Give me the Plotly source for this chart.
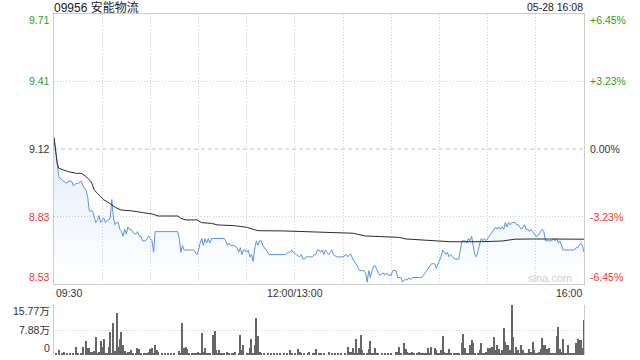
import plotly.graph_objects as go

# ---------------- data ----------------
title_text = "09956 安能物流"
stamp_text = "05-28 16:08"
prev_close = 9.12
pct_ticks = [6.45, 3.23, 0.0, -3.23, -6.45]
price_tick_labels = ["9.71", "9.41", "9.12", "8.83", "8.53"]
pct_tick_labels = ["+6.45%", "+3.23%", "0.00%", "-3.23%", "-6.45%"]
vol_ticks = [157700, 78850, 0]
vol_tick_labels = ["15.77万", "7.88万", "0"]
time_labels = ["09:30", "12:00/13:00", "16:00"]

price_times = [
    "09:30", "09:32", "09:33", "09:34", "09:36", "09:38", "09:39", "09:41", "09:42", "09:44",
    "09:45", "09:47", "09:48", "09:50", "09:51", "09:52", "09:54", "09:55", "09:56", "09:57",
    "09:58", "09:59", "10:01", "10:02", "10:03", "10:04", "10:05", "10:06", "10:07", "10:08",
    "10:09", "10:10", "10:11", "10:12", "10:13", "10:14", "10:15", "10:16", "10:17", "10:18",
    "10:20", "10:21", "10:22", "10:23", "10:24", "10:25", "10:27", "10:28", "10:29", "10:30",
    "10:31", "10:32", "10:33", "10:47", "10:48", "10:49", "10:50", "10:51", "10:52", "10:53",
    "10:57", "10:59", "11:00", "11:01", "11:02", "11:03", "11:04", "11:05", "11:06", "11:07",
    "11:08", "11:16", "11:17", "11:18", "11:19", "11:20", "11:22", "11:24", "11:25", "11:26",
    "11:27", "11:28", "11:29", "11:30", "11:31", "11:32", "11:33", "11:34", "11:35", "11:36",
    "11:37", "11:38", "11:39", "11:40", "11:42", "11:43", "11:44", "11:53", "11:54", "11:56",
    "11:57", "11:58", "11:59",
    "13:01", "13:03", "13:04", "13:05", "13:06", "13:07", "13:08", "13:09", "13:10", "13:11",
    "13:12", "13:13", "13:14", "13:15", "13:16", "13:17", "13:18", "13:19", "13:20", "13:21",
    "13:22", "13:23", "13:24", "13:26", "13:28", "13:29", "13:30", "13:32", "13:33", "13:34",
    "13:35", "13:36", "13:37", "13:38", "13:39", "13:40", "13:42", "13:43", "13:44", "13:45",
    "13:46", "13:47", "13:48", "13:49", "13:50", "13:51", "13:52", "13:53", "13:55", "13:56",
    "13:57", "13:58", "14:00", "14:01", "14:02", "14:03", "14:04", "14:05", "14:06", "14:07",
    "14:08", "14:09", "14:10", "14:11", "14:12", "14:13", "14:14", "14:15", "14:16", "14:18",
    "14:19", "14:21", "14:22", "14:23", "14:24", "14:25", "14:26", "14:27", "14:28", "14:29",
    "14:30", "14:31", "14:32", "14:33", "14:34", "14:35", "14:36", "14:37", "14:38", "14:40",
    "14:41", "14:42", "14:43", "14:44", "14:45", "14:46", "14:47", "14:48", "14:49", "14:50",
    "14:51", "14:52", "14:53", "14:54", "14:55", "14:56", "14:57", "14:58", "14:59", "15:00",
    "15:01", "15:02", "15:03", "15:04", "15:05", "15:06", "15:07", "15:08", "15:09", "15:10",
    "15:11", "15:12", "15:13", "15:14", "15:15", "15:17", "15:18", "15:19", "15:20", "15:21",
    "15:22", "15:23", "15:24", "15:25", "15:26", "15:27", "15:28", "15:29", "15:30", "15:31",
    "15:32", "15:33", "15:34", "15:35", "15:36", "15:38", "15:39", "15:40", "15:41", "15:42",
    "15:43", "15:44", "15:45", "15:46", "15:47", "15:48", "15:49", "15:50", "15:52", "15:54",
    "15:55", "15:56", "15:57", "15:58", "15:59", "16:00",
]
price_values = [
    9.17, 9.06, 9.00, 8.99, 8.98, 8.97, 8.98, 8.98, 8.96, 8.97,
    8.97, 8.98, 8.96, 8.94, 8.91, 8.85, 8.85, 8.83, 8.80, 8.81,
    8.83, 8.80, 8.82, 8.80, 8.81, 8.81, 8.82, 8.90, 8.82, 8.79,
    8.80, 8.80, 8.77, 8.76, 8.74, 8.77, 8.75, 8.78, 8.77, 8.77,
    8.75, 8.75, 8.76, 8.74, 8.74, 8.72, 8.72, 8.73, 8.74, 8.73,
    8.72, 8.67, 8.76, 8.76, 8.73, 8.67, 8.70, 8.68, 8.68, 8.68,
    8.68, 8.66, 8.68, 8.71, 8.73, 8.70, 8.73, 8.71, 8.73, 8.71,
    8.73, 8.73, 8.72, 8.70, 8.71, 8.70, 8.70, 8.69, 8.67, 8.69,
    8.66, 8.68, 8.68, 8.67, 8.68, 8.65, 8.66, 8.63, 8.69, 8.72,
    8.70, 8.72, 8.72, 8.70, 8.68, 8.67, 8.66, 8.66, 8.66, 8.67,
    8.67, 8.68, 8.67,
    8.66, 8.65, 8.66, 8.64, 8.64, 8.65, 8.65, 8.65, 8.65, 8.65,
    8.66, 8.66, 8.68, 8.68, 8.67, 8.68, 8.66, 8.68, 8.67, 8.66,
    8.67, 8.68, 8.66, 8.65, 8.65, 8.65, 8.65, 8.66, 8.65, 8.66,
    8.66, 8.64, 8.63, 8.62, 8.61, 8.59, 8.59, 8.59, 8.58, 8.54,
    8.59, 8.56, 8.59, 8.61, 8.61, 8.59, 8.58, 8.57, 8.58, 8.57,
    8.58, 8.57, 8.57, 8.59, 8.59, 8.59, 8.56, 8.56, 8.56, 8.54,
    8.55, 8.55, 8.55, 8.56, 8.55, 8.56, 8.56, 8.56, 8.56, 8.56,
    8.56, 8.58, 8.59, 8.60, 8.61, 8.62, 8.62, 8.62, 8.60, 8.62,
    8.63, 8.65, 8.68, 8.67, 8.66, 8.67, 8.65, 8.66, 8.65, 8.64,
    8.64, 8.64, 8.68, 8.72, 8.72, 8.72, 8.71, 8.73, 8.72, 8.74,
    8.70, 8.66, 8.65, 8.68, 8.71, 8.73, 8.72, 8.73, 8.72, 8.73,
    8.74, 8.75, 8.76, 8.77, 8.78, 8.77, 8.78, 8.77, 8.78, 8.77,
    8.80, 8.78, 8.80, 8.79, 8.80, 8.80, 8.79, 8.79, 8.78, 8.77,
    8.78, 8.79, 8.77, 8.77, 8.76, 8.77, 8.76, 8.75, 8.74, 8.74,
    8.75, 8.76, 8.77, 8.76, 8.72, 8.72, 8.72, 8.72, 8.73, 8.72,
    8.73, 8.71, 8.72, 8.70, 8.68, 8.68, 8.68, 8.68, 8.68, 8.68,
    8.69, 8.69, 8.70, 8.71, 8.70, 8.67,
]

avg_times = [
    "09:30", "09:32", "09:33", "09:36", "09:39", "09:44", "09:47", "09:50", "09:53", "09:54",
    "09:55", "09:57", "09:59", "10:01", "10:03", "10:06", "10:09", "10:12", "10:19", "10:25",
    "10:31", "10:35", "10:47", "10:49", "10:52", "10:59", "11:02", "11:08", "11:12", "11:22",
    "11:30", "11:34", "11:37", "11:53",
    "13:04", "13:15", "13:30", "13:36", "13:44", "13:59", "14:05", "14:09", "14:20", "14:30",
    "14:37", "14:56", "15:09", "15:17", "15:29", "16:00",
]
avg_values = [
    9.170, 9.058, 9.036, 9.029, 9.021, 9.014, 9.014, 9.000, 8.978, 8.963,
    8.942, 8.927, 8.912, 8.898, 8.891, 8.876, 8.862, 8.854, 8.850, 8.843,
    8.837, 8.828, 8.828, 8.818, 8.811, 8.811, 8.799, 8.796, 8.789, 8.786,
    8.779, 8.770, 8.764, 8.763,
    8.760, 8.757, 8.756, 8.753, 8.741, 8.738, 8.735, 8.728, 8.724, 8.719,
    8.716, 8.716, 8.719, 8.727, 8.728, 8.727,
]

vol_times = [
    "09:31", "09:33", "09:35", "09:36", "09:38", "09:40", "09:42", "09:44", "09:45", "09:47",
    "09:48", "09:50", "09:51", "09:52", "09:53", "09:54", "09:55", "09:56", "09:57", "09:58",
    "09:59", "10:00", "10:01", "10:02", "10:03", "10:04", "10:05", "10:06", "10:07", "10:08",
    "10:09", "10:10", "10:11", "10:12", "10:13", "10:14", "10:15", "10:16", "10:17", "10:18",
    "10:19", "10:21", "10:22", "10:23", "10:24", "10:26", "10:27", "10:28", "10:29", "10:30",
    "10:31", "10:32", "10:33", "10:34", "10:35", "10:37", "10:39", "10:41", "10:43", "10:45",
    "10:48", "10:49", "10:50", "10:51", "10:52", "10:53", "10:54", "10:56", "10:57", "10:58",
    "10:59", "11:00", "11:01", "11:02", "11:03", "11:04", "11:05", "11:06", "11:07", "11:09",
    "11:10", "11:11", "11:12", "11:13", "11:14", "11:15", "11:16", "11:18", "11:19", "11:21",
    "11:22", "11:23", "11:25", "11:26", "11:27", "11:28", "11:30", "11:31", "11:32", "11:33",
    "11:34", "11:35", "11:36", "11:37", "11:38", "11:39", "11:41", "11:43", "11:45", "11:47",
    "11:49", "11:51", "11:53", "11:55", "11:57", "11:58", "12:00",
    "13:02", "13:03", "13:04", "13:06", "13:08", "13:09", "13:11", "13:12", "13:13", "13:15",
    "13:16", "13:18", "13:21", "13:23", "13:25", "13:27", "13:29", "13:31", "13:33", "13:34",
    "13:35", "13:36", "13:37", "13:38", "13:39", "13:40", "13:41", "13:42", "13:43", "13:45",
    "13:46", "13:47", "13:48", "13:49", "13:50", "13:51", "13:52", "13:54", "13:56", "13:58",
    "14:00", "14:03", "14:04", "14:05", "14:06", "14:08", "14:09", "14:10", "14:11", "14:12",
    "14:13", "14:14", "14:16", "14:17", "14:18", "14:19", "14:20", "14:21", "14:22", "14:23",
    "14:24", "14:25", "14:27", "14:28", "14:29", "14:30", "14:31", "14:32", "14:33", "14:34",
    "14:35", "14:36", "14:37", "14:39", "14:40", "14:41", "14:42", "14:44", "14:45", "14:46",
    "14:47", "14:48", "14:49", "14:50", "14:51", "14:52", "14:54", "14:55", "14:56", "14:57",
    "14:58", "14:59", "15:00", "15:01", "15:02", "15:03", "15:04", "15:05", "15:06", "15:07",
    "15:08", "15:09", "15:10", "15:11", "15:12", "15:13", "15:14", "15:15", "15:16", "15:17",
    "15:18", "15:19", "15:20", "15:21", "15:22", "15:23", "15:24", "15:25", "15:26", "15:27",
    "15:28", "15:29", "15:30", "15:31", "15:32", "15:33", "15:34", "15:35", "15:36", "15:37",
    "15:38", "15:39", "15:40", "15:41", "15:42", "15:43", "15:44", "15:45", "15:46", "15:47",
    "15:48", "15:49", "15:50", "15:51", "15:52", "15:53", "15:54", "15:55", "15:56", "15:57",
    "15:58", "15:59", "16:00",
]
vol_values = [
    5300, 15800, 5300, 8400, 3200, 5300, 7400, 24000, 5300, 5300,
    24000, 44000, 21000, 21000, 8400, 10500, 13700, 56000, 5300, 10500,
    44000, 26000, 49000, 7400, 5300, 26000, 74000, 5300, 100000, 13700,
    133000, 26000, 52000, 74000, 31500, 13700, 7400, 10500, 10500, 15800,
    7400, 5300, 21000, 17900, 5300, 7400, 3200, 5300, 10500, 17900,
    21000, 5300, 31500, 15800, 8400, 3200, 3200, 3200, 3200, 3200,
    12600, 5300, 102000, 21000, 26000, 17900, 5300, 5300, 3200, 7400,
    5300, 10500, 5300, 70000, 10500, 23000, 5300, 7400, 3200, 63000,
    76000, 15800, 3200, 15800, 7400, 3200, 7400, 10500, 5300, 5300,
    7400, 10500, 5300, 63000, 15800, 31500, 5300, 7400, 21000, 49000,
    7400, 31500, 116000, 60000, 8400, 3200, 3200, 5300, 3200, 5300,
    3200, 5300, 3200, 5300, 15800, 5300, 5300,
    17900, 10500, 5300, 7400, 5300, 10500, 5300, 5300, 17900, 5300,
    3200, 3200, 8400, 3200, 3200, 3200, 5300, 3200, 24000, 10500,
    10500, 21000, 5300, 49000, 5300, 21000, 63000, 15800, 5300, 7400,
    17900, 44000, 7400, 5300, 21000, 7400, 3200, 5300, 3200, 3200,
    3200, 10500, 10500, 26000, 7400, 39000, 17900, 10500, 7400, 7400,
    10500, 3200, 7400, 10500, 5300, 5300, 3200, 7400, 3200, 21000,
    5300, 24000, 21000, 15800, 5300, 5300, 15800, 60000, 10500, 5300,
    5300, 17900, 7400, 3200, 3200, 3200, 3200, 39000, 66000, 21000,
    5300, 3200, 31500, 47000, 37000, 3200, 5300, 15800, 39000, 5300,
    7400, 10500, 21000, 21000, 21000, 26000, 56000, 15800, 31500, 17900,
    3200, 15800, 84000, 42000, 31500, 31500, 15800, 158000, 58000, 5300,
    26000, 15800, 5300, 31500, 15800, 5300, 3200, 5300, 17900, 10500,
    42000, 15800, 3200, 5300, 10500, 17900, 55000, 31500, 31500, 17900,
    21000, 5300, 3200, 7400, 5300, 60000, 89000, 17900, 10500, 50000,
    7400, 5300, 31500, 3200, 7400, 5300, 7400, 37000, 49000, 46000,
    46000, 21000, 110000,
]

# ---------------- helpers ----------------
MORNING_LEN = 150   # 09:30-12:00
SESSION_LEN = 330   # + 13:00-16:00


def session_minute(t):
    h, m = map(int, t.split(":"))
    mins = h * 60 + m
    if mins <= 12 * 60:
        return mins - (9 * 60 + 30)
    return MORNING_LEN + mins - 13 * 60


px = [session_minute(t) for t in price_times]
ax = [session_minute(t) for t in avg_times]
vx = [session_minute(t) for t in vol_times]

lo = prev_close * (1 - max(pct_ticks) / 100)
hi = prev_close * (1 + max(pct_ticks) / 100)
tick_prices = [prev_close * (1 + p / 100) for p in pct_ticks]

GREEN = "#1f9f1f"
RED = "#f2332b"
NEUTRAL = "#333333"
FONT = "Liberation Sans, Arial, Noto Sans CJK SC, sans-serif"


def tick_color(p):
    return GREEN if p > 0 else (RED if p < 0 else NEUTRAL)


fig = go.Figure()

fig.add_trace(go.Scatter(
    x=px, y=price_values, mode="lines", xaxis="x", yaxis="y",
    line=dict(color="#5a92ee", width=1),
    fill="tozeroy",
    fillgradient=dict(type="vertical",
                      colorscale=[[0, "rgba(90,146,238,0.0)"], [1, "rgba(90,146,238,0.17)"]],
                      start=lo, stop=max(price_values)),
    hoverinfo="skip",
))
fig.add_trace(go.Scatter(
    x=ax, y=avg_values, mode="lines", xaxis="x", yaxis="y",
    line=dict(color="#2b2b2b", width=1), hoverinfo="skip",
))
fig.add_trace(go.Bar(
    x=vx, y=vol_values, xaxis="x2", yaxis="y2", width=0.7,
    marker=dict(color="#666666", line=dict(width=0)), hoverinfo="skip",
))

price_bottom = (355 - 284) / 341
vol_top = (355 - 305) / 341
grid_dash = "1px,2px"

fig.update_layout(
    width=640, height=360,
    margin=dict(l=54, r=56, t=14, b=5),
    paper_bgcolor="white", plot_bgcolor="white",
    showlegend=False, bargap=0,
    font=dict(family=FONT, size=10.5, color=NEUTRAL),
    xaxis=dict(domain=[0, 1], range=[0, SESSION_LEN], anchor="y",
               tickvals=list(range(30, SESSION_LEN, 30)), showticklabels=False, ticks="",
               showgrid=True, gridcolor="#d0d0d0", griddash=grid_dash, gridwidth=1,
               showline=True, linecolor="#cccccc", linewidth=1, mirror=True, zeroline=False),
    yaxis=dict(domain=[price_bottom, 1], range=[lo, hi], anchor="x",
               tickvals=[tick_prices[1], tick_prices[3]], showticklabels=False, ticks="",
               showgrid=True, gridcolor="#d0d0d0", griddash=grid_dash, gridwidth=1,
               showline=True, linecolor="#cccccc", linewidth=1, mirror=True, zeroline=False),
    xaxis2=dict(domain=[0, 1], range=[0, SESSION_LEN], anchor="y2",
                showticklabels=False, ticks="", showgrid=False, showline=False, zeroline=False),
    yaxis2=dict(domain=[0, vol_top], range=[0, vol_ticks[0]], anchor="x2",
                tickvals=[vol_ticks[1], vol_ticks[0]], showticklabels=False, ticks="",
                showgrid=True, gridcolor="#d0d0d0", griddash=grid_dash, gridwidth=1,
                showline=True, linecolor="#cccccc", linewidth=1, mirror=True, zeroline=False),
)

# zero-change dashed line
fig.add_shape(type="line", xref="x domain", yref="y", x0=0, x1=1,
              y0=prev_close, y1=prev_close,
              line=dict(color="#c4c4c4", width=1, dash="4px,3px"), layer="below")

ann = []
n = len(pct_ticks)
for i, (p, yp) in enumerate(zip(pct_ticks, tick_prices)):
    shift = -6 if i == 0 else (7 if i == n - 1 else 0)
    c = tick_color(p)
    ann.append(dict(text=price_tick_labels[i], xref="paper", x=0, xanchor="right", xshift=-2,
                    yref="y", y=yp, yanchor="middle", yshift=shift,
                    showarrow=False, font=dict(color=c, size=10.5)))
    ann.append(dict(text=pct_tick_labels[i], xref="paper", x=1, xanchor="left", xshift=4,
                    yref="y", y=yp, yanchor="middle", yshift=shift,
                    showarrow=False, font=dict(color=c, size=10.5)))

for i, (v, lab) in enumerate(zip(vol_ticks, vol_tick_labels)):
    shift = -6 if i == 0 else (7 if i == len(vol_ticks) - 1 else 0)
    ann.append(dict(text=lab, xref="paper", x=0, xanchor="right", xshift=-2,
                    yref="y2", y=v, yanchor="middle", yshift=shift,
                    showarrow=False, font=dict(color=NEUTRAL, size=10.5)))

# time labels under price panel
anchors = ["left", "center", "right"]
xs = [0, MORNING_LEN, SESSION_LEN]
for lab, xv, a in zip(time_labels, xs, anchors):
    ann.append(dict(text=lab, xref="x", x=xv, xanchor=a, yref="y domain", y=0,
                    yanchor="top", yshift=-1, showarrow=False,
                    font=dict(color=NEUTRAL, size=10.5)))

ann.append(dict(text=title_text, xref="paper", x=0, xanchor="left", xshift=-2,
                yref="paper", y=1, yanchor="middle", yshift=7, showarrow=False,
                font=dict(color="#222222", size=12)))
ann.append(dict(text=stamp_text, xref="paper", x=1, xanchor="right", xshift=1,
                yref="paper", y=1, yanchor="middle", yshift=7, showarrow=False,
                font=dict(color="#222222", size=10.5)))
ann.append(dict(text="sina.com", xref="x domain", x=1, xanchor="right", xshift=-10,
                yref="y domain", y=0, yanchor="bottom", yshift=-2, showarrow=False,
                font=dict(color="#cfcfcf", size=11)))

fig.update_layout(annotations=ann)

fig.write_html("out.html")
